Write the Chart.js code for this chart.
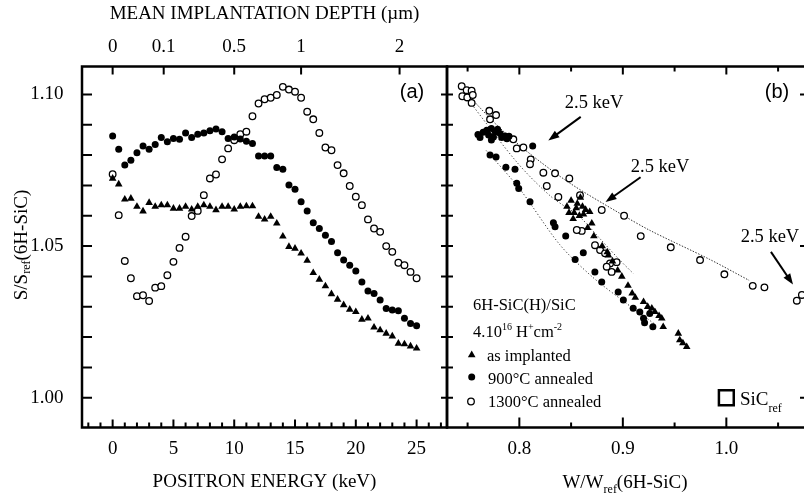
<!DOCTYPE html>
<html>
<head>
<meta charset="utf-8">
<title>6H-SiC positron S and S-W data</title>
<script src="https://cdn.jsdelivr.net/npm/chart.js@4.4.1/dist/chart.umd.min.js"></script>
<style>
  html, body { margin: 0; padding: 0; background: #fff; width: 804px; height: 497px; overflow: hidden; }
  #panelA { position: absolute; left: 0; top: 0; }
  #panelB { position: absolute; left: 440px; top: 0; }
</style>
</head>
<body>
<canvas id="panelA" width="452" height="497"></canvas>
<canvas id="panelB" width="372" height="497"></canvas>
<script>
var SERIF = "'Liberation Serif', 'Times New Roman', serif";
var SANS = "'Liberation Sans', Arial, sans-serif";

// (a) S/Sref versus positron energy
var energyKeV = [0, 0.5, 1, 1.5, 2, 2.5, 3, 3.5, 4, 4.5, 5, 5.5, 6, 6.5, 7, 7.5, 8, 8.5, 9, 9.5,
    10, 10.5, 11, 11.5, 12, 12.5, 13, 13.5, 14, 14.5, 15, 15.5, 16, 16.5, 17, 17.5, 18, 18.5, 19, 19.5,
    20, 20.5, 21, 21.5, 22, 22.5, 23, 23.5, 24, 24.5, 25];
var sAsImplanted = [1.0723, 1.0704, 1.0654, 1.0657, 1.0630, 1.0615, 1.0643, 1.0630, 1.0635, 1.0635,
    1.0624, 1.0624, 1.0630, 1.0621, 1.0630, 1.0635, 1.0630, 1.0619, 1.0630, 1.0630,
    1.0621, 1.0630, 1.0632, 1.0632, 1.0597, 1.0588, 1.0597, 1.0575, 1.0532, 1.0498,
    1.0492, 1.0476, 1.0452, 1.0412, 1.0390, 1.0368, 1.0342, 1.0324, 1.0306, 1.0291,
    1.0283, 1.0258, 1.0262, 1.0232, 1.0223, 1.0212, 1.0203, 1.0179, 1.0177, 1.0170, 1.0163];
var s900C = [1.0863, 1.0819, 1.0767, 1.0783, 1.0808, 1.0830, 1.0819, 1.0835, 1.0858, 1.0844,
    1.0855, 1.0852, 1.0873, 1.0858, 1.0869, 1.0873, 1.0880, 1.0886, 1.0877, 1.0855,
    1.0860, 1.0853, 1.0846, 1.0838, 1.0797, 1.0797, 1.0797, 1.0759, 1.0753, 1.0701,
    1.0687, 1.0646, 1.0616, 1.0577, 1.0558, 1.0536, 1.0515, 1.0478, 1.0454, 1.0437,
    1.0418, 1.0382, 1.0352, 1.0344, 1.0322, 1.0294, 1.0289, 1.0287, 1.0262, 1.0245, 1.0237];
var s1300C = [1.0737, 1.0602, 1.0451, 1.0394, 1.0335, 1.0338, 1.0319, 1.0363, 1.0368, 1.0404,
    1.0448, 1.0494, 1.0531, 1.0599, 1.0616, 1.0668, 1.0723, 1.0736, 1.0786, 1.0822,
    1.0849, 1.0869, 1.0877, 1.0928, 1.0970, 1.0984, 1.0989, 1.0998, 1.1025, 1.1016,
    1.1009, 1.0989, 1.0943, 1.0918, 1.0873, 1.0825, 1.0816, 1.0767, 1.0740, 1.0698,
    1.0663, 1.0635, 1.0588, 1.0558, 1.0547, 1.0500, 1.0481, 1.0445, 1.0437, 1.0415, 1.0394];

// (b) S/Sref versus W/Wref
var wImpl = [0.846, 0.850, 0.853, 0.856, 0.858, 0.861, 0.864, 0.852, 0.848, 0.859, 0.855, 0.862,
    0.868, 0.870, 0.872, 0.866, 0.880, 0.885, 0.886, 0.890, 0.895, 0.899, 0.905, 0.909, 0.912,
    0.920, 0.924, 0.928, 0.931, 0.935, 0.9376, 0.939, 0.9536, 0.955, 0.958, 0.9617];
var sImpl = [1.063, 1.065, 1.061, 1.064, 1.060, 1.063, 1.062, 1.059, 1.061, 1.066, 1.0625, 1.0605,
    1.0613, 1.0575, 1.0533, 1.056, 1.050, 1.048, 1.047, 1.045, 1.042, 1.040, 1.037, 1.0344, 1.033,
    1.0316, 1.030, 1.0295, 1.0283, 1.027, 1.0262, 1.0234, 1.0212, 1.019, 1.018, 1.0168];
var w900 = [0.762, 0.7685, 0.773, 0.7703, 0.7767, 0.7814, 0.7862, 0.788, 0.773, 0.765, 0.779, 0.783,
    0.760, 0.775, 0.790, 0.8129, 0.7717, 0.7775, 0.787, 0.7958, 0.7975, 0.7994, 0.8103, 0.8329,
    0.8345, 0.8448, 0.8618, 0.8539, 0.873, 0.8796, 0.8955, 0.9005, 0.910, 0.9164, 0.920, 0.926,
    0.921, 0.929];
var s900 = [1.0858, 1.0882, 1.0888, 1.0866, 1.0877, 1.0871, 1.0863, 1.0854, 1.085, 1.0875, 1.0885, 1.0858,
    1.0868, 1.0860, 1.0862, 1.083, 1.080, 1.0794, 1.076, 1.0753, 1.0707, 1.069, 1.0646, 1.0577,
    1.0564, 1.0533, 1.0478, 1.0456, 1.0415, 1.0382, 1.0349, 1.0322, 1.0295, 1.0283, 1.0262, 1.0278,
    1.0247, 1.0234];
var w1300 = [0.7443, 0.7491, 0.7539, 0.7449, 0.7497, 0.755, 0.7539, 0.771, 0.7775, 0.7717, 0.7942,
    0.7975, 0.8039, 0.811, 0.8103, 0.8232, 0.8345, 0.8483, 0.8265, 0.8377, 0.8586, 0.8796, 0.8603,
    0.8555, 0.8731, 0.878, 0.8828, 0.8876, 0.8844, 0.8892, 0.894, 0.9012, 0.9173, 0.9463, 0.9746,
    0.9981, 1.0255, 1.0368, 1.0681, 1.073];
var s1300 = [1.1027, 1.1014, 1.1012, 1.0994, 1.099, 1.0998, 1.0972, 1.0946, 1.0932, 1.0918, 1.0852,
    1.0822, 1.0825, 1.0786, 1.077, 1.0742, 1.074, 1.0723, 1.0698, 1.0662, 1.0668, 1.0619, 1.055,
    1.0553, 1.0503, 1.0487, 1.0476, 1.0443, 1.0432, 1.0415, 1.0447, 1.06, 1.0533, 1.0496, 1.0454,
    1.0407, 1.0369, 1.0364, 1.032, 1.0339];
var refW = [1.0];
var refS = [1.0];

// dotted guide lines in (b)
var wLineUpper = [0.752, 0.780, 0.810, 0.849, 0.897, 0.926, 0.984, 1.022];
var sLineUpper = [1.0992, 1.0893, 1.0805, 1.0707, 1.0608, 1.0552, 1.0456, 1.0387];
var wLineMid = [0.750, 0.798, 0.830, 0.858, 0.878, 0.897, 0.910];
var sLineMid = [1.0985, 1.0775, 1.0665, 1.0597, 1.0524, 1.0454, 1.041];
var wLineLow = [0.768, 0.800, 0.839, 0.870, 0.900, 0.930];
var sLineLow = [1.0815, 1.069, 1.0505, 1.040, 1.032, 1.0245];

// "2.5 keV" notes: label position, arrow tail, arrow head (W, S)
var noteLabel = [[0.8722, 1.0970], [0.936, 1.0761], [1.0421, 1.0531]];
var noteTail = [[0.8593, 1.0926], [0.9171, 1.0727], [1.0431, 1.0481]];
var noteHead = [[0.8280, 1.0848], [0.8833, 1.0645], [1.0644, 1.0373]];

// axes
var sTicks = [1.00, 1.01, 1.02, 1.03, 1.04, 1.05, 1.06, 1.07, 1.08, 1.09, 1.10];
var sLabelled = [1.00, 1.05, 1.10];
var energyTicks = [-2, -1, 0, 1, 2, 3, 4, 5, 6, 7, 8, 9, 10, 11, 12, 13, 14, 15, 16, 17, 18, 19, 20,
    21, 22, 23, 24, 25, 26, 27];
var energyLabelled = [0, 5, 10, 15, 20, 25];
var depthTickKeV = [0, 4.2, 10.0, 15.5, 23.6];
var depthLabels = ['0', '0.1', '0.5', '1', '2'];
var wTicks = [0.75, 0.80, 0.85, 0.90, 0.95, 1.00, 1.05];
var wLabelled = [0.8, 0.9, 1.0];
var wLabels = ['0.8', '0.9', '1.0'];

var eMin = -2.52, eMax = 27.5;
var sMin = 0.9902, sMax = 1.1092;
var wMin = 0.7301, wMax = 1.0789;

function pts(xs, ys) {
    return xs.map(function(x, i) { return { x: x, y: ys[i] }; });
}

function isMultiple(v, step) {
    return Math.abs(v / step - Math.round(v / step)) < 1e-6;
}

function frame(chart) {
    var ctx = chart.ctx, a = chart.chartArea;
    ctx.save();
    ctx.strokeStyle = '#000';
    ctx.lineWidth = 2.5;
    ctx.strokeRect(a.left, a.top, a.right - a.left, a.bottom - a.top);
    ctx.restore();
}

function tickMarks(chart, scaleId, edge, values, lenFor, cross) {
    var ctx = chart.ctx, a = chart.chartArea, sc = chart.scales[scaleId];
    ctx.save();
    ctx.strokeStyle = '#000';
    ctx.lineWidth = 2;
    ctx.beginPath();
    values.forEach(function(v) {
        var p = sc.getPixelForValue(v);
        var len = lenFor(v);
        var out = cross ? len : 0;
        if (edge === 'left') { ctx.moveTo(a.left - out, p); ctx.lineTo(a.left + len, p); }
        if (edge === 'right') { ctx.moveTo(a.right + out, p); ctx.lineTo(a.right - len, p); }
        if (edge === 'bottom') { ctx.moveTo(p, a.bottom + out); ctx.lineTo(p, a.bottom - len); }
        if (edge === 'top') { ctx.moveTo(p, a.top - out); ctx.lineTo(p, a.top + len); }
    });
    ctx.stroke();
    ctx.restore();
}

// parts: [text, font size, vertical shift]
function richText(ctx, parts, x, y, align) {
    var w = 0;
    parts.forEach(function(p) {
        ctx.font = p[1] + 'px ' + SERIF;
        w += ctx.measureText(p[0]).width;
    });
    var cx = align === 'center' ? x - w / 2 : x;
    ctx.textAlign = 'left';
    parts.forEach(function(p) {
        ctx.font = p[1] + 'px ' + SERIF;
        ctx.fillText(p[0], cx, y + (p[2] || 0));
        cx += ctx.measureText(p[0]).width;
    });
}

function arrow(chart, from, to) {
    var ctx = chart.ctx, xs = chart.scales.x, ys = chart.scales.y;
    var x1 = xs.getPixelForValue(from[0]), y1 = ys.getPixelForValue(from[1]);
    var x2 = xs.getPixelForValue(to[0]), y2 = ys.getPixelForValue(to[1]);
    var ang = Math.atan2(y2 - y1, x2 - x1);
    var hl = 11, hw = 4;
    var c = Math.cos(ang), s = Math.sin(ang);
    ctx.save();
    ctx.strokeStyle = '#000';
    ctx.fillStyle = '#000';
    ctx.lineWidth = 2;
    ctx.beginPath();
    ctx.moveTo(x1, y1);
    ctx.lineTo(x2 - c * hl * 0.8, y2 - s * hl * 0.8);
    ctx.stroke();
    ctx.beginPath();
    ctx.moveTo(x2, y2);
    ctx.lineTo(x2 - c * hl - s * hw, y2 - s * hl + c * hw);
    ctx.lineTo(x2 - c * hl + s * hw, y2 - s * hl - c * hw);
    ctx.closePath();
    ctx.fill();
    ctx.restore();
}

var panelADecor = {
    id: 'panelADecor',
    afterDraw: function(chart) {
        var ctx = chart.ctx, a = chart.chartArea;
        frame(chart);
        tickMarks(chart, 'y', 'left', sTicks, function() { return 10; });
        tickMarks(chart, 'x', 'bottom', energyTicks, function(v) { return isMultiple(v, 5) ? 8 : 5; });
        tickMarks(chart, 'xTop', 'top', depthTickKeV, function() { return 8; });

        ctx.save();
        ctx.fillStyle = '#000';
        ctx.font = '20px ' + SANS;
        ctx.textAlign = 'center';
        ctx.textBaseline = 'middle';
        ctx.fillText('(a)', a.right - 35, 92);

        ctx.translate(22, 245);
        ctx.rotate(-Math.PI / 2);
        ctx.textBaseline = 'middle';
        richText(ctx, [['S/S', 19, 0], ['ref', 12, 5], ['(6H-SiC)', 19, 0]], 0, 0, 'center');
        ctx.restore();
    }
};

var panelBDecor = {
    id: 'panelBDecor',
    afterDraw: function(chart) {
        var ctx = chart.ctx;
        var xs = chart.scales.x, ys = chart.scales.y;
        frame(chart);
        tickMarks(chart, 'y', 'left', sTicks, function() { return 6; }, true);
        tickMarks(chart, 'y', 'right', sLabelled, function() { return 8; });
        tickMarks(chart, 'x', 'bottom', wTicks, function(v) { return isMultiple(v, 0.1) ? 10 : 5; });
        tickMarks(chart, 'x', 'top', wTicks, function(v) { return isMultiple(v, 0.1) ? 8 : 5; });

        for (var i = 0; i < noteLabel.length; i++) {
            arrow(chart, noteTail[i], noteHead[i]);
        }

        ctx.save();
        ctx.fillStyle = '#000';
        ctx.font = '20px ' + SANS;
        ctx.textAlign = 'center';
        ctx.textBaseline = 'middle';
        ctx.fillText('(b)', 337, 92);

        ctx.font = '18.5px ' + SERIF;
        noteLabel.forEach(function(p) {
            ctx.fillText('2.5 keV', xs.getPixelForValue(p[0]), ys.getPixelForValue(p[1]));
        });

        ctx.textBaseline = 'alphabetic';
        richText(ctx, [['6H-SiC(H)/SiC', 16.5, 0]], 33, 310, 'left');
        richText(ctx, [['4.10', 16.5, 0], ['16', 10, -7], [' H', 16.5, 0], ['+', 10, -7],
            ['cm', 16.5, 0], ['-2', 10, -7]], 33, 337, 'left');
        richText(ctx, [['as implanted', 16.5, 0]], 47, 360.5, 'left');
        richText(ctx, [['900\u00B0C annealed', 16.5, 0]], 48, 384, 'left');
        richText(ctx, [['1300\u00B0C annealed', 16.5, 0]], 48, 407, 'left');

        var h = Chart.helpers;
        ctx.fillStyle = '#000';
        ctx.strokeStyle = '#000';
        h.drawPoint(ctx, { pointStyle: 'triangle', radius: 4.4, borderWidth: 0, rotation: 0 }, 31.7, 355);
        h.drawPoint(ctx, { pointStyle: 'circle', radius: 3.5, borderWidth: 0, rotation: 0 }, 31.7, 377);
        ctx.fillStyle = '#fff';
        ctx.lineWidth = 1.3;
        h.drawPoint(ctx, { pointStyle: 'circle', radius: 3.3, borderWidth: 1.3, rotation: 0 }, 31, 401.5);

        ctx.fillStyle = '#000';
        richText(ctx, [['SiC', 19, 0], ['ref', 12, 7]], 300, 405, 'left');

        richText(ctx, [['W/W', 19, 0], ['ref', 12, 5], ['(6H-SiC)', 19, 0]], 185, 488, 'center');
        ctx.restore();
    }
};

var tickFont = { family: SERIF, size: 19 };

new Chart(document.getElementById('panelA'), {
    type: 'scatter',
    data: {
        datasets: [{
            label: '900°C annealed',
            data: pts(energyKeV, s900C),
            pointStyle: 'circle',
            pointRadius: 3.5,
            backgroundColor: '#000',
            borderWidth: 0
        }, {
            label: 'as implanted',
            data: pts(energyKeV, sAsImplanted),
            pointStyle: 'triangle',
            pointRadius: 4.4,
            backgroundColor: '#000',
            borderWidth: 0
        }, {
            label: '1300°C annealed',
            data: pts(energyKeV, s1300C),
            pointStyle: 'circle',
            pointRadius: 3.3,
            backgroundColor: '#fff',
            borderColor: '#000',
            borderWidth: 1.3
        }]
    },
    options: {
        responsive: false,
        animation: false,
        events: [],
        layout: { autoPadding: false, padding: { left: 0, right: 5, top: 0, bottom: 0 } },
        plugins: { legend: { display: false }, tooltip: { enabled: false } },
        scales: {
            x: {
                type: 'linear', position: 'bottom', min: eMin, max: eMax,
                grid: { display: false }, border: { display: false },
                afterBuildTicks: function(s) { s.ticks = energyLabelled.map(function(v) { return { value: v }; }); },
                ticks: { autoSkip: false, maxRotation: 0, padding: 2, color: '#000', font: tickFont,
                    callback: function(v) { return String(v); } },
                title: { display: true, text: 'POSITRON ENERGY (keV)', color: '#000', font: tickFont,
                    padding: { top: 0, bottom: 3.6 } },
                afterFit: function(s) { s.height = 69.5; }
            },
            xTop: {
                type: 'linear', position: 'top', min: eMin, max: eMax,
                grid: { display: false }, border: { display: false },
                afterBuildTicks: function(s) { s.ticks = depthTickKeV.map(function(v) { return { value: v }; }); },
                ticks: { autoSkip: false, maxRotation: 0, padding: 0, color: '#000', font: tickFont,
                    callback: function(v, i) { return depthLabels[i]; } },
                title: { display: true, text: 'MEAN IMPLANTATION DEPTH (\u00B5m)', color: '#000', font: tickFont,
                    padding: { top: 3, bottom: 0 } },
                afterFit: function(s) { s.height = 66.5; }
            },
            y: {
                type: 'linear', position: 'left', min: sMin, max: sMax,
                grid: { display: false }, border: { display: false },
                afterBuildTicks: function(s) { s.ticks = sLabelled.map(function(v) { return { value: v }; }); },
                ticks: { autoSkip: false, padding: 10.5, color: '#000', font: tickFont,
                    callback: function(v) { return v.toFixed(2); } },
                afterFit: function(s) { s.width = 82; }
            }
        }
    },
    plugins: [panelADecor]
});

new Chart(document.getElementById('panelB'), {
    type: 'scatter',
    data: {
        datasets: [{
            label: '900°C annealed',
            data: pts(w900, s900),
            pointStyle: 'circle',
            pointRadius: 3.5,
            backgroundColor: '#000',
            borderWidth: 0
        }, {
            label: 'as implanted',
            data: pts(wImpl, sImpl),
            pointStyle: 'triangle',
            pointRadius: 4.4,
            backgroundColor: '#000',
            borderWidth: 0
        }, {
            label: '1300°C annealed',
            data: pts(w1300, s1300),
            pointStyle: 'circle',
            pointRadius: 3.3,
            backgroundColor: '#fff',
            borderColor: '#000',
            borderWidth: 1.3
        }, {
            label: 'SiC ref',
            data: pts(refW, refS),
            pointStyle: 'rect',
            pointRadius: 10.5,
            backgroundColor: 'rgba(0,0,0,0)',
            borderColor: '#000',
            borderWidth: 2.5
        }, {
            label: 'guide upper',
            data: pts(wLineUpper, sLineUpper),
            showLine: true, pointRadius: 0, tension: 0.3,
            borderColor: '#333', borderWidth: 1, borderDash: [1.5, 1.5]
        }, {
            label: 'guide middle',
            data: pts(wLineMid, sLineMid),
            showLine: true, pointRadius: 0, tension: 0.3,
            borderColor: '#333', borderWidth: 1, borderDash: [1.2, 2.2]
        }, {
            label: 'guide lower',
            data: pts(wLineLow, sLineLow),
            showLine: true, pointRadius: 0, tension: 0.3,
            borderColor: '#333', borderWidth: 1, borderDash: [1.2, 2.2]
        }]
    },
    options: {
        responsive: false,
        animation: false,
        events: [],
        layout: { autoPadding: false, padding: { left: 7, right: 4, top: 0, bottom: 0 } },
        plugins: { legend: { display: false }, tooltip: { enabled: false } },
        scales: {
            x: {
                type: 'linear', position: 'bottom', min: wMin, max: wMax,
                grid: { display: false }, border: { display: false },
                afterBuildTicks: function(s) { s.ticks = wLabelled.map(function(v) { return { value: v }; }); },
                ticks: { autoSkip: false, maxRotation: 0, padding: 2, color: '#000', font: tickFont,
                    callback: function(v, i) { return wLabels[i]; } },
                afterFit: function(s) { s.height = 69.5; }
            },
            xTop: {
                type: 'linear', position: 'top', min: wMin, max: wMax,
                grid: { display: false }, border: { display: false },
                ticks: { display: false },
                afterFit: function(s) { s.height = 66.5; }
            },
            y: {
                type: 'linear', position: 'left', min: sMin, max: sMax,
                display: false
            }
        }
    },
    plugins: [panelBDecor]
});
</script>
</body>
</html>
